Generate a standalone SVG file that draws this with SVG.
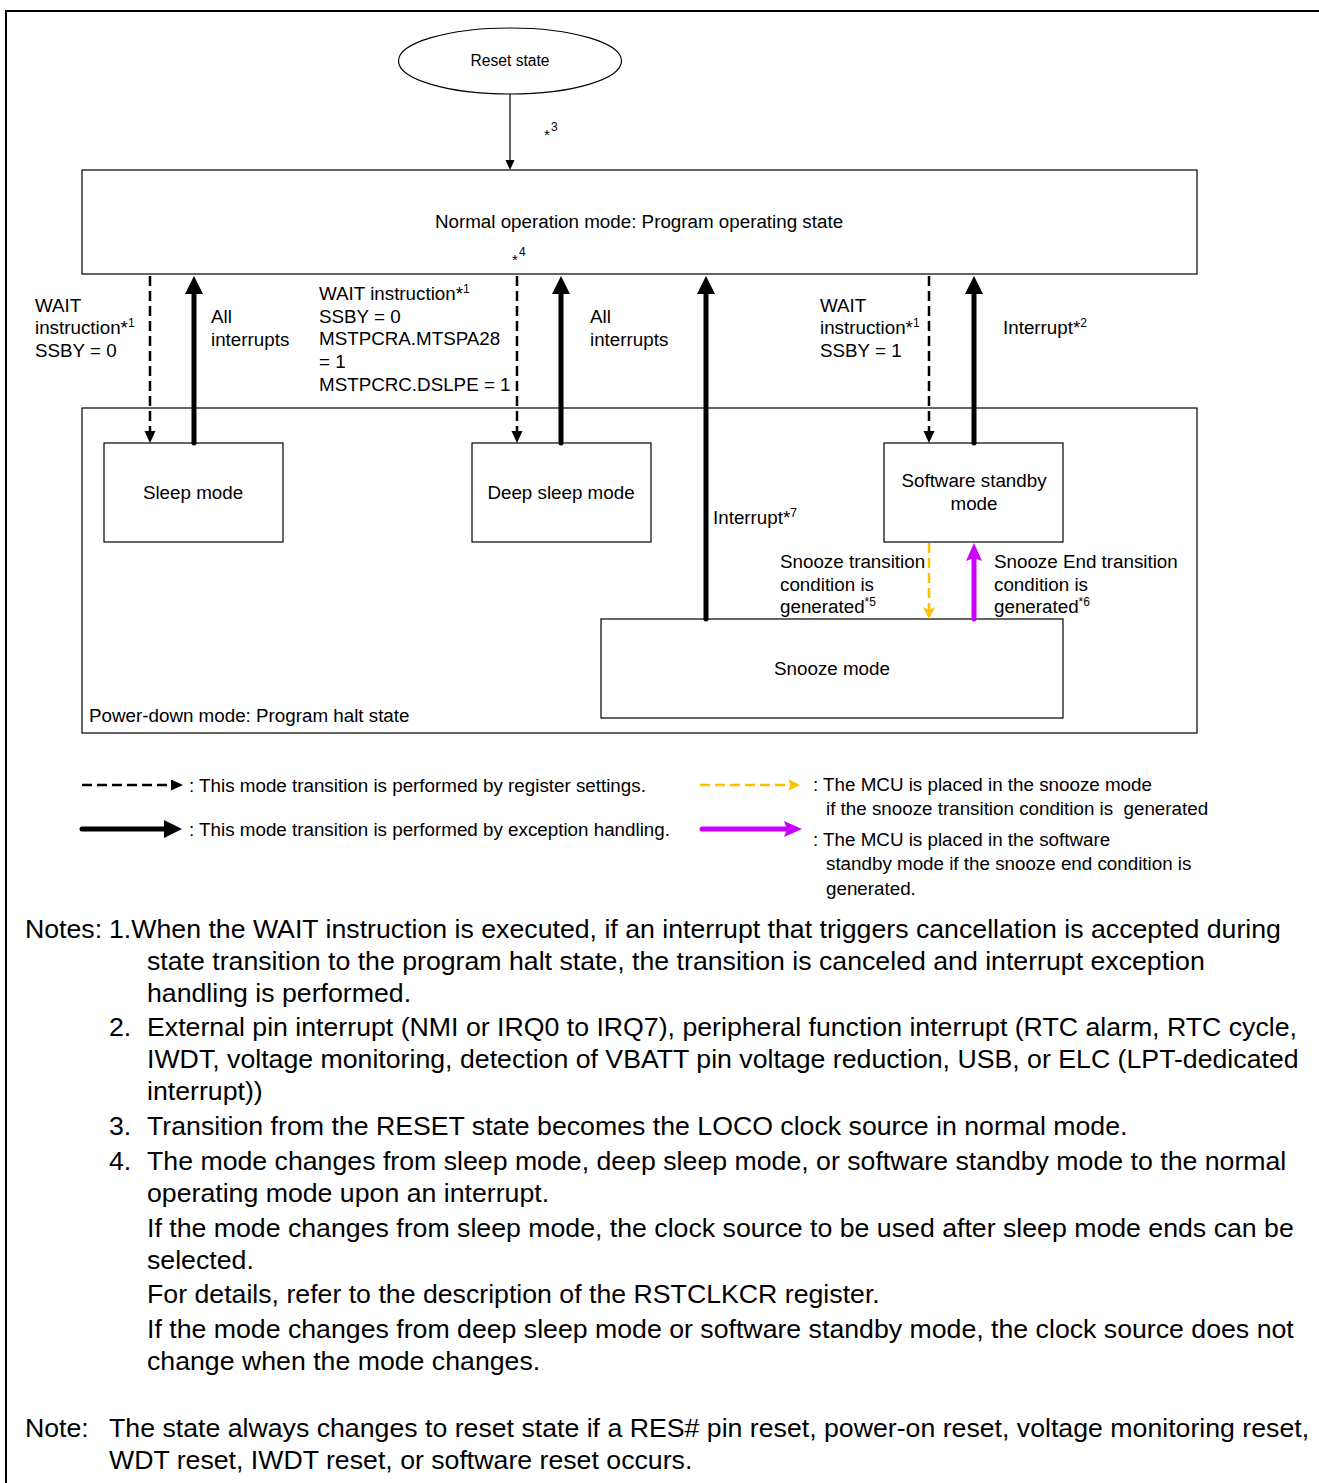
<svg xmlns="http://www.w3.org/2000/svg" width="1319" height="1483" viewBox="0 0 1319 1483">
<defs>
<style>
text{font-family:"Liberation Sans",Arial,Helvetica,sans-serif;fill:#000}
.m{font-size:18.8px}
.s{font-size:15.6px}
.n{font-size:26.7px}
.sup{font-size:12px}
.star{font-size:15px}
.box{fill:#fff;stroke:#000;stroke-width:1.2}
.dash{stroke:#000;stroke-width:2.5;stroke-dasharray:10 5;fill:none}
.thick{stroke:#000;stroke-width:5;stroke-linecap:round;fill:none}
.thin{stroke:#000;stroke-width:1.2;fill:none}
.ydash{stroke:#FFC000;stroke-width:2.5;stroke-dasharray:10 5;fill:none}
.mag{stroke:#CC00FF;stroke-width:5;stroke-linecap:round;fill:none}
</style>
<marker id="hThick" markerUnits="userSpaceOnUse" markerWidth="20" markerHeight="20" refX="6" refY="9" orient="auto"><path d="M0,0 L18,9 L0,18 z" fill="#000"/></marker>
<marker id="hDash" markerUnits="userSpaceOnUse" markerWidth="14" markerHeight="14" refX="4" refY="5.5" orient="auto"><path d="M0,0 L12,5.5 L0,11 z" fill="#000"/></marker>
<marker id="hThin" markerUnits="userSpaceOnUse" markerWidth="12" markerHeight="12" refX="2" refY="4.5" orient="auto"><path d="M0,0 L10,4.5 L0,9 z" fill="#000"/></marker>
<marker id="hYel" markerUnits="userSpaceOnUse" markerWidth="14" markerHeight="14" refX="4" refY="6" orient="auto"><path d="M0,0 L12,6 L0,12 L3,6 z" fill="#FFC000"/></marker>
<marker id="hMag" markerUnits="userSpaceOnUse" markerWidth="20" markerHeight="20" refX="5" refY="8" orient="auto"><path d="M0,0 L18,8 L0,16 L3,8 z" fill="#CC00FF"/></marker>
</defs>
<rect x="0" y="0" width="1319" height="1483" fill="#fff"/>
<rect x="6" y="11" width="1330" height="1490" fill="none" stroke="#000" stroke-width="2"/>

<g id="powerdown">
<rect class="box" x="82" y="408" width="1115" height="325"/>
<text class="m" x="89" y="722">Power-down mode: Program halt state</text>
</g>
<g id="reset">
<ellipse cx="510" cy="61" rx="111.5" ry="33" fill="#fff" stroke="#000" stroke-width="1.2"/>
<text class="s" x="510" y="66" text-anchor="middle">Reset state</text>
</g>
<g id="normal">
<rect class="box" x="82" y="170" width="1115" height="104"/>
<text class="m" x="639" y="227.5" text-anchor="middle">Normal operation mode: Program operating state</text>
</g>
<g id="sleep">
<rect class="box" x="104" y="443" width="179" height="99"/>
<text class="m" x="193" y="498.5" text-anchor="middle">Sleep mode</text>
</g>
<g id="deepsleep">
<rect class="box" x="472" y="443" width="179" height="99"/>
<text class="m" x="561" y="498.5" text-anchor="middle">Deep sleep mode</text>
</g>
<g id="swstandby">
<rect class="box" x="884" y="443" width="179" height="99"/>
<text class="m" x="974" y="486.5" text-anchor="middle">Software standby</text>
<text class="m" x="974" y="509.5" text-anchor="middle">mode</text>
</g>
<g id="snooze">
<rect class="box" x="601" y="619" width="462" height="99"/>
<text class="m" x="832" y="674.5" text-anchor="middle">Snooze mode</text>
</g>

<g id="connectors">
<line class="thin" x1="510" y1="94" x2="510" y2="162" marker-end="url(#hThin)"/>
<line class="dash" x1="150" y1="276" x2="150" y2="435" marker-end="url(#hDash)"/>
<line class="thick" x1="194" y1="443" x2="194" y2="288" marker-end="url(#hThick)"/>
<line class="dash" x1="517" y1="276" x2="517" y2="435" marker-end="url(#hDash)"/>
<line class="thick" x1="561" y1="443" x2="561" y2="288" marker-end="url(#hThick)"/>
<line class="thick" x1="706" y1="619" x2="706" y2="288" marker-end="url(#hThick)"/>
<line class="dash" x1="929" y1="276" x2="929" y2="435" marker-end="url(#hDash)"/>
<line class="thick" x1="974" y1="443" x2="974" y2="288" marker-end="url(#hThick)"/>
<line class="ydash" x1="929" y1="543" x2="929" y2="611" marker-end="url(#hYel)"/>
<line class="mag" x1="974" y1="619" x2="974" y2="556" marker-end="url(#hMag)"/>
</g>

<g id="labels">
<text class="star" x="544" y="140">*</text><text class="sup" x="551" y="131" font-size="11">3</text>
<text class="star" x="512" y="265">*</text><text class="sup" x="519" y="256" font-size="11">4</text>
<text class="m" x="35" y="311.5">WAIT</text>
<text class="m" x="35" y="333.5">instruction*<tspan class="sup" dy="-7">1</tspan></text>
<text class="m" x="35" y="356.5">SSBY = 0</text>
<text class="m" x="211" y="322.5">All</text>
<text class="m" x="211" y="345.5">interrupts</text>
<text class="m" x="319" y="299.5">WAIT instruction*<tspan class="sup" dy="-7">1</tspan></text>
<text class="m" x="319" y="322.5">SSBY = 0</text>
<text class="m" x="319" y="344.5">MSTPCRA.MTSPA28</text>
<text class="m" x="319" y="367.5">= 1</text>
<text class="m" x="319" y="390.5">MSTPCRC.DSLPE = 1</text>
<text class="m" x="590" y="322.5">All</text>
<text class="m" x="590" y="345.5">interrupts</text>
<text class="m" x="820" y="311.5">WAIT</text>
<text class="m" x="820" y="333.5">instruction*<tspan class="sup" dy="-7">1</tspan></text>
<text class="m" x="820" y="356.5">SSBY = 1</text>
<text class="m" x="1003" y="333.5">Interrupt*<tspan class="sup" dy="-7">2</tspan></text>
<text class="m" x="713" y="523.5">Interrupt*<tspan class="sup" dy="-7">7</tspan></text>
<text class="m" x="780" y="567.5">Snooze transition</text>
<text class="m" x="780" y="590.5">condition is</text>
<text class="m" x="780" y="612.5">generated<tspan class="sup" font-size="11" dy="-7">*5</tspan></text>
<text class="m" x="994" y="567.5">Snooze End transition</text>
<text class="m" x="994" y="590.5">condition is</text>
<text class="m" x="994" y="612.5">generated<tspan class="sup" font-size="11" dy="-7">*6</tspan></text>
</g>

<g id="legend">
<line class="dash" x1="82" y1="785" x2="175" y2="785" marker-end="url(#hDash)"/>
<line class="thick" x1="82" y1="829" x2="170" y2="829" marker-end="url(#hThick)"/>
<line class="ydash" x1="700" y1="785" x2="792" y2="785" marker-end="url(#hYel)"/>
<line class="mag" x1="702" y1="829" x2="789" y2="829" marker-end="url(#hMag)"/>
<text class="m" x="189" y="791.5">: This mode transition is performed by register settings.</text>
<text class="m" x="189" y="835.5">: This mode transition is performed by exception handling.</text>
<text class="m" x="813" y="790.5">: The MCU is placed in the snooze mode</text>
<text class="m" x="826" y="814.5" xml:space="preserve">if the snooze transition condition is  generated</text>
<text class="m" x="813" y="845.5">: The MCU is placed in the software</text>
<text class="m" x="826" y="869.5">standby mode if the snooze end condition is</text>
<text class="m" x="826" y="894.5">generated.</text>
</g>

<g id="notes">
<text class="n" x="25" y="938">Notes:</text>
<text class="n" x="109" y="938">1.When the WAIT instruction is executed, if an interrupt that triggers cancellation is accepted during</text>
<text class="n" x="147" y="970">state transition to the program halt state, the transition is canceled and interrupt exception</text>
<text class="n" x="147" y="1002">handling is performed.</text>
<text class="n" x="109" y="1036">2.</text>
<text class="n" x="147" y="1036">External pin interrupt (NMI or IRQ0 to IRQ7), peripheral function interrupt (RTC alarm, RTC cycle,</text>
<text class="n" x="147" y="1068">IWDT, voltage monitoring, detection of VBATT pin voltage reduction, USB, or ELC (LPT-dedicated</text>
<text class="n" x="147" y="1100">interrupt))</text>
<text class="n" x="109" y="1135">3.</text>
<text class="n" x="147" y="1135">Transition from the RESET state becomes the LOCO clock source in normal mode.</text>
<text class="n" x="109" y="1170">4.</text>
<text class="n" x="147" y="1170">The mode changes from sleep mode, deep sleep mode, or software standby mode to the normal</text>
<text class="n" x="147" y="1202">operating mode upon an interrupt.</text>
<text class="n" x="147" y="1237">If the mode changes from sleep mode, the clock source to be used after sleep mode ends can be</text>
<text class="n" x="147" y="1269">selected.</text>
<text class="n" x="147" y="1303">For details, refer to the description of the RSTCLKCR register.</text>
<text class="n" x="147" y="1338">If the mode changes from deep sleep mode or software standby mode, the clock source does not</text>
<text class="n" x="147" y="1370">change when the mode changes.</text>
<text class="n" x="25" y="1437">Note:</text>
<text class="n" x="109" y="1437">The state always changes to reset state if a RES# pin reset, power-on reset, voltage monitoring reset,</text>
<text class="n" x="109" y="1469">WDT reset, IWDT reset, or software reset occurs.</text>
</g>
</svg>
